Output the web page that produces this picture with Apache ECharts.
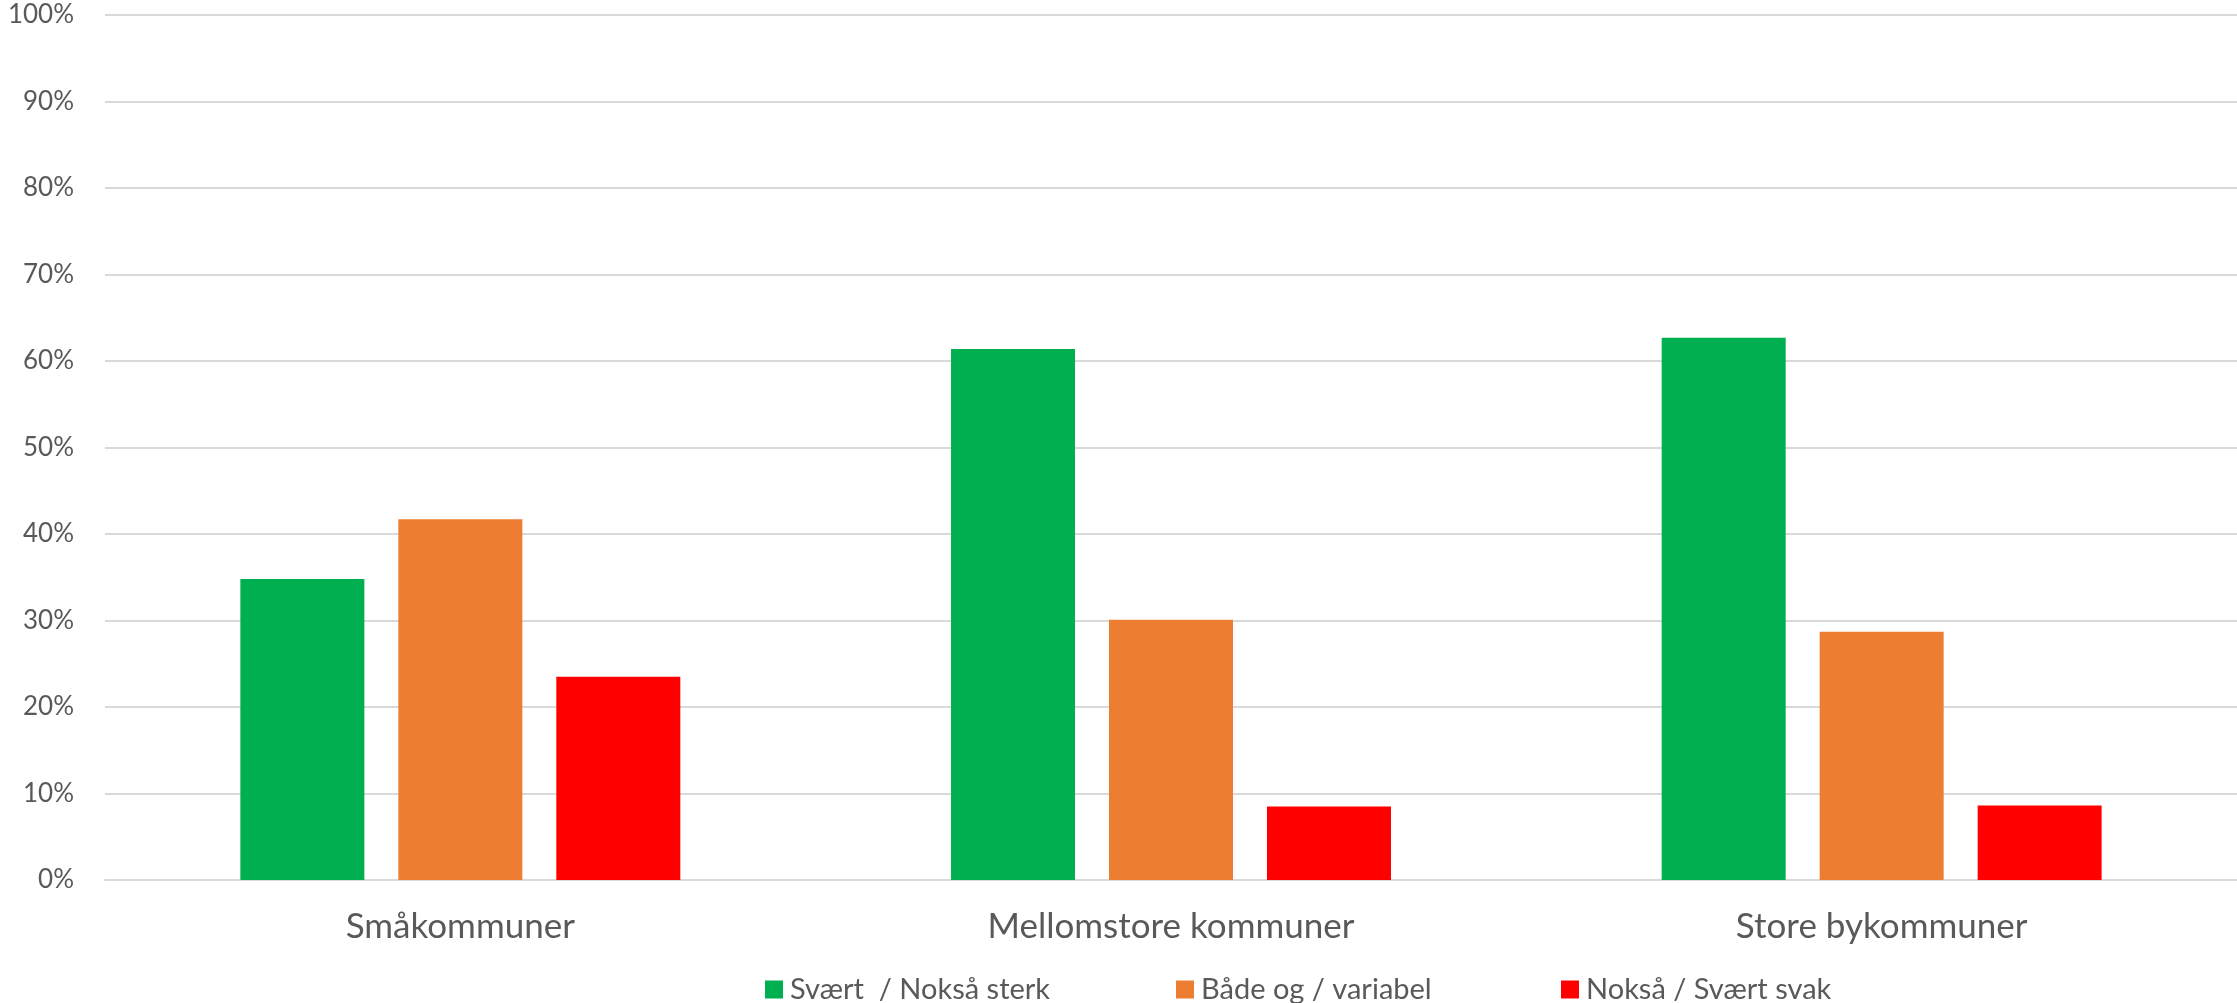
<!DOCTYPE html>
<html>
<head>
<meta charset="utf-8">
<script src="https://cdn.jsdelivr.net/npm/echarts@6/dist/echarts.min.js"></script>
<style>
  html, body { margin: 0; padding: 0; background: #ffffff; }
  #chart { width: 2237px; height: 1003px; }
</style>
</head>
<body>
<div id="chart"></div>
<script>
const categories = ['Småkommuner', 'Mellomstore kommuner', 'Store bykommuner'];
const seriesNames = ['Svært  / Nokså sterk', 'Både og / variabel', 'Nokså / Svært svak'];
const strongValues = [34.8, 61.4, 62.7];
const mixedValues = [41.7, 30.1, 28.7];
const weakValues = [23.5, 8.5, 8.6];
const seriesColors = ['#00B050', '#ED7D31', '#FF0000'];
const yTicks = { min: 0, max: 100, interval: 10 };

const chart = echarts.init(document.getElementById('chart'), null, { renderer: 'canvas' });
const font = 'Lato, "Open Sans", sans-serif';
const textColor = '#595959';
const allValues = [strongValues, mixedValues, weakValues];
const legendLefts = [760, 1171, 1556];

const option = {
  backgroundColor: '#ffffff',
  animation: false,
  grid: { left: 105, right: 0, top: 15, bottom: 123, containLabel: false },
  legend: seriesNames.map((n, i) => ({
    data: [n],
    left: legendLefts[i],
    top: 970,
    itemWidth: 18,
    itemHeight: 18,
    itemGap: 0,
    icon: 'rect',
    textStyle: { fontFamily: font, fontSize: 29, color: textColor, padding: [0, 0, 0, 2] }
  })),
  xAxis: {
    type: 'category',
    data: categories,
    axisLine: { show: true, lineStyle: { color: '#D9D9D9', width: 2 } },
    axisTick: { show: false },
    axisLabel: { fontFamily: font, fontSize: 35, color: textColor, margin: 29 }
  },
  yAxis: {
    type: 'value',
    min: yTicks.min,
    max: yTicks.max,
    interval: yTicks.interval,
    axisLine: { show: false },
    axisTick: { show: false },
    splitLine: { lineStyle: { color: '#D9D9D9', width: 2 } },
    axisLabel: { fontFamily: font, fontSize: 26, color: textColor, margin: 31, formatter: '{value}%' }
  },
  series: seriesNames.map((n, i) => ({
    name: n,
    type: 'bar',
    data: allValues[i],
    barWidth: 124,
    barGap: '27.4%',
    itemStyle: { color: seriesColors[i] }
  }))
};
chart.setOption(option);
</script>
</body>
</html>
